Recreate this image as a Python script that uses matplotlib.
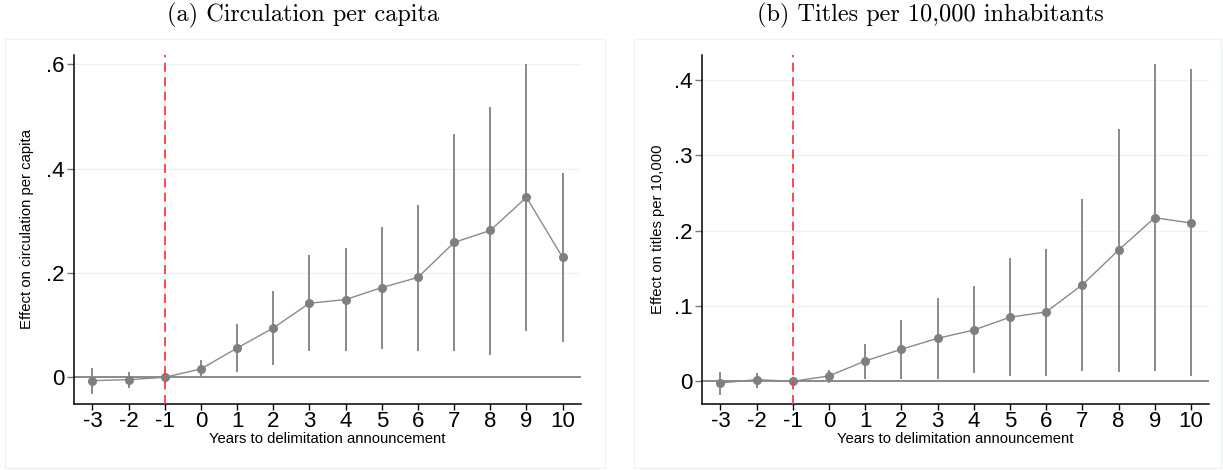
import numpy as np
import matplotlib
matplotlib.use("Agg")
import matplotlib.pyplot as plt
from matplotlib.patches import Rectangle

# event time
years = [-3, -2, -1, 0, 1, 2, 3, 4, 5, 6, 7, 8, 9, 10]

# panel (a) circulation per capita
circ_est = [-0.0064, -0.0045, 0.0, 0.016, 0.056, 0.0945, 0.142, 0.149, 0.172, 0.1915, 0.2585, 0.2815, 0.345, 0.2298]
circ_hi = [0.018, 0.0096, 0.0, 0.034, 0.103, 0.166, 0.234, 0.248, 0.289, 0.331, 0.466, 0.518, 0.600, 0.391]
circ_lo = [-0.032, -0.020, 0.0, -0.0013, 0.0102, 0.023, 0.051, 0.050, 0.054, 0.051, 0.051, 0.0434, 0.0894, 0.0677]

# panel (b) titles per 10,000
titl_est = [-0.0022, 0.0022, 0.0, 0.0071, 0.027, 0.0425, 0.057, 0.068, 0.085, 0.092, 0.128, 0.174, 0.217, 0.210]
titl_hi = [0.013, 0.0115, 0.0, 0.0155, 0.050, 0.0815, 0.111, 0.126, 0.163, 0.176, 0.242, 0.335, 0.421, 0.414]
titl_lo = [-0.018, -0.0084, 0.0, -0.0018, 0.0031, 0.0031, 0.0035, 0.011, 0.0071, 0.0075, 0.014, 0.013, 0.0137, 0.0071]

circ_ticks = [0, 0.2, 0.4, 0.6]
circ_ticklabels = ["0", ".2", ".4", ".6"]
titl_ticks = [0, 0.1, 0.2, 0.3, 0.4]
titl_ticklabels = ["0", ".1", ".2", ".3", ".4"]

W, H = 1223, 470
fig = plt.figure(figsize=(W / 100, H / 100), dpi=100)
plt.rcParams['font.family'] = ['Liberation Sans', 'DejaVu Sans']


def fx(px):
    return px / W


def fy(py):
    return 1 - py / H


def panel(rect, frame, est, lo, hi, ticks, ticklabels, ylim, ylabel, title, title_x, ylabel_x):
    # light frame of the stata plot region
    fig.patches.append(Rectangle((fx(frame[0]), fy(frame[3])), fx(frame[2] - frame[0]), (frame[3] - frame[1]) / H,
                                 transform=fig.transFigure, fill=False, edgecolor='#eef2f3', lw=1.0))
    ax = fig.add_axes([fx(rect[0]), fy(rect[3]), fx(rect[2] - rect[0]), (rect[3] - rect[1]) / H])
    x = np.array(years)
    est = np.array(est)
    ax.vlines(x, lo, hi, color='#8a8a8a', lw=1.4, zorder=2)
    ax.axhline(0, color='#8a8a8a', lw=1.4, zorder=1)
    ax.plot(x, est, color='#8a8a8a', lw=1.0, marker='o', markersize=5.5,
            markerfacecolor='#7f7f7f', markeredgecolor='#7f7f7f', zorder=3)
    ax.axvline(-1, color='#ff3b3b', lw=1.3, ls=(0, (5, 3)), zorder=4)
    for t in ticks[1:]:
        ax.axhline(t, color='#edf3f4', lw=1.0, zorder=0)
    ax.set_xlim(-3.5, 10.5)
    ax.set_ylim(*ylim)
    ax.set_xticks(years)
    ax.set_xticklabels([str(v) for v in years])
    ax.set_yticks(ticks)
    ax.set_yticklabels(ticklabels)
    ax.tick_params(axis='x', labelsize=16, length=4, width=1, pad=1.5, color='black')
    ax.tick_params(axis='y', labelsize=16, length=5, width=1, pad=2, color='#777777')
    for s in ['top', 'right']:
        ax.spines[s].set_visible(False)
    for s in ['left', 'bottom']:
        ax.spines[s].set_linewidth(1.1)
    ax.set_xlabel('Years to delimitation announcement', fontsize=10.7, labelpad=0)
    fig.text(fx(ylabel_x), fy((rect[1] + rect[3]) / 2), ylabel, rotation=90, fontsize=10.7,
             ha='center', va='center')
    fig.text(fx(title_x), fy(15), title, fontsize=17.5, family='cmr10', ha='center', va='center')
    return ax


panel((74.3, 55, 580.7, 403.5), (5, 39, 605, 468), circ_est, circ_lo, circ_hi,
      circ_ticks, circ_ticklabels, (-0.0502, 0.6178), 'Effect on circulation per capita',
      '(a) Circulation per capita', 303, 27)
panel((702.3, 55, 1209, 403.7), (634, 39, 1221, 468), titl_est, titl_lo, titl_hi,
      titl_ticks, titl_ticklabels, (-0.0297, 0.4328), 'Effect on titles per 10,000',
      '(b) Titles per 10,000 inhabitants', 930, 658)

fig.savefig('out.png', dpi=100)
